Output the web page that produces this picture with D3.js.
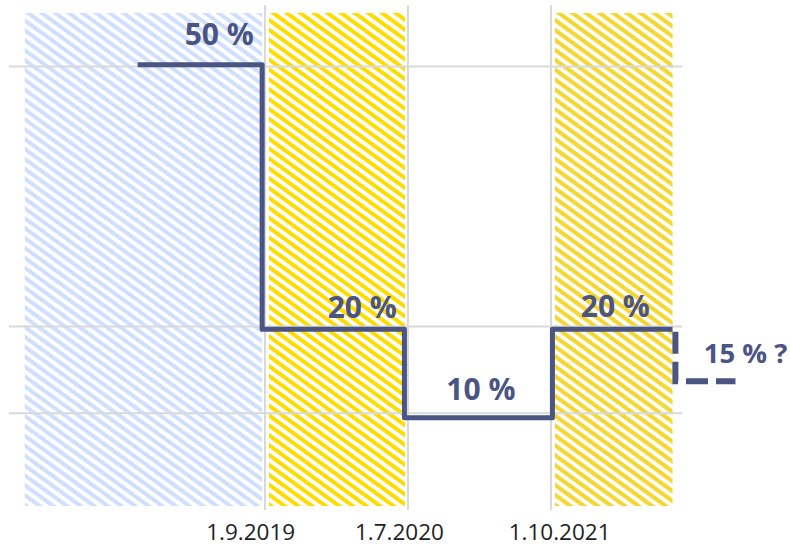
<!DOCTYPE html>
<html>
<head>
<meta charset="utf-8">
<script src="https://cdn.jsdelivr.net/npm/d3@7"></script>
<style>
  body { margin: 0; background: #fff; }
  text { font-family: "Open Sans", "Noto Sans", sans-serif; }
</style>
</head>
<body>
<div id="chart"></div>
<script>
// ---- data (x in "step index" units, y in %) ----
var tickLabels = ["1.9.2019", "1.7.2020", "1.10.2021"];
var tickIdx    = [1, 2, 3];
var labelIdx   = [0.9, 1.94, 3.06];      // where the date labels sit
var gridValues = [10, 20, 50];

// shaded periods
var bandStart = [-0.68, 1, 3];
var bandEnd   = [1, 2, 3.85];
var bandFill  = ["blue", "yellow", "yellowSoft"];

// the rate as a step line
var stepX = [0.11, 0.98, 1.975, 3.01, 3.85];
var stepV = [50.2, 19.7, 9.5, 19.7, 19.7];

// the uncertain continuation (dashed)
var dashX = [3.87, 3.87, 4.29];
var dashV = [19.4, 13.7, 13.7];

// value labels
var valText = ["50 %", "20 %", "10 %", "20 %", "15 % ?"];
var valX    = [0.68, 1.68, 2.51, 3.45, 4.36];
var valV    = [52.5, 21.0, 11.5, 21.1, 15.8];

function init() {

  var width = 790, height = 547;
  var plotTop = 13, plotBottom = 506;
  var ink = "#4b5583";

  var svg = d3.select("#chart")
              .append("svg")
              .attr("width", width)
              .attr("height", height);

  var x = d3.scaleLinear().domain([0, 4]).range([122, 694]);
  var y = d3.scaleLinear().domain([0, 50]).range([500, 66.5]);

  /*------------------ hatch patterns ------------------*/
  var defs = svg.append("defs");
  function hatch(id, color, crisp, opacity, w) {
    var p = defs.append("pattern")
                .attr("id", id)
                .attr("patternUnits", "userSpaceOnUse")
                .attr("width", 8)
                .attr("height", 8)
                .attr("patternTransform", "rotate(36)");
    p.append("rect")
     .attr("width", 8).attr("height", w)
     .attr("fill", color)
     .attr("fill-opacity", opacity)
     .attr("shape-rendering", crisp ? "crispEdges" : "auto");
  }
  hatch("blue", "#cfdfff", false, 1, 4);
  hatch("yellow", "#ffdc00", true, 1, 4.2);
  hatch("yellowSoft", "#f3d31c", false, 0.9, 4.2);

  svg.append("g")
     .selectAll("rect")
     .data(bandStart)
     .enter().append("rect")
       .attr("x", function(d, i) { return x(d) + (i > 0 ? 4 : 0); })
       .attr("y", plotTop)
       .attr("width", function(d, i) { return x(bandEnd[i]) - x(d) - (i > 0 ? 4 : 0) - (i < 2 ? 3 : 0); })
       .attr("height", plotBottom - plotTop)
       .attr("fill", function(d, i) { return "url(#" + bandFill[i] + ")"; });

  /*------------------ grid lines ------------------*/
  var grid = svg.append("g").attr("stroke", "#d9d9d9").attr("stroke-width", 2);

  grid.selectAll("line.h")
      .data(gridValues)
      .enter().append("line")
        .attr("class", "h")
        .attr("x1", 9).attr("x2", 682)
        .attr("y1", function(d) { return y(d); })
        .attr("y2", function(d) { return y(d); });

  grid.selectAll("line.v")
      .data(tickIdx)
      .enter().append("line")
        .attr("class", "v")
        .attr("y1", 5).attr("y2", 510)
        .attr("x1", function(d) { return x(d); })
        .attr("x2", function(d) { return x(d); });

  // date labels under the axis
  svg.append("g")
     .selectAll("text")
     .data(tickLabels)
     .enter().append("text")
       .attr("x", function(d, i) { return x(labelIdx[i]); })
       .attr("y", 540)
       .attr("text-anchor", "middle")
       .attr("font-size", 22.5)
       .attr("fill", "#222")
       .text(function(d) { return d; });

  /*------------------ step line ------------------*/
  var stepLine = d3.line()
                   .x(function(d) { return x(d[0]); })
                   .y(function(d) { return y(d[1]); })
                   .curve(d3.curveStepAfter);

  svg.append("path")
     .datum(d3.zip(stepX, stepV))
     .attr("d", stepLine)
     .attr("fill", "none")
     .attr("stroke", ink)
     .attr("stroke-width", 5)
     .attr("stroke-linejoin", "round");

  var dashLine = d3.line()
                   .x(function(d) { return x(d[0]); })
                   .y(function(d) { return y(d[1]); });

  svg.append("path")
     .datum(d3.zip(dashX, dashV))
     .attr("d", dashLine)
     .attr("fill", "none")
     .attr("stroke", ink)
     .attr("stroke-width", 6)
     .attr("stroke-dasharray", "22,8");

  /*------------------ value labels ------------------*/
  svg.append("g")
     .selectAll("text")
     .data(valText)
     .enter().append("text")
       .attr("x", function(d, i) { return x(valX[i]); })
       .attr("y", function(d, i) { return y(valV[i]); })
       .attr("text-anchor", "middle")
       .attr("font-weight", "bold")
       .attr("font-size", function(d, i) { return i === 4 ? 27.5 : 30; })
       .attr("fill", ink)
       .text(function(d) { return d; });
}

window.onload = init;
</script>
</body>
</html>
